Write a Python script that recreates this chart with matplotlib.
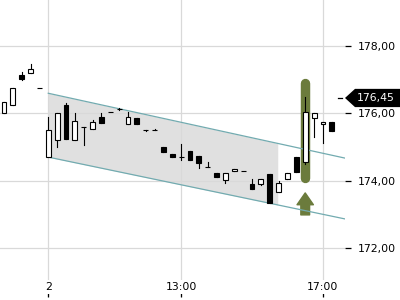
import numpy as np
import matplotlib
matplotlib.use("Agg")
import matplotlib.pyplot as plt
from matplotlib.patches import Polygon

# 15-minute candles (index 0..37)
opens  = [176.00, 176.24, 177.13, 177.19, 176.74, 174.70, 175.20, 176.24, 175.20, 175.59,
          175.53, 175.88, 176.03, 176.12, 175.68, 175.85, 175.50, 175.50, 175.00, 174.79,
          174.71, 174.88, 174.73, 174.41, 174.23, 174.02, 174.29, 174.29, 173.90, 173.90,
          174.20, 173.67, 174.05, 174.70, 174.55, 175.85, 175.68, 175.74]
highs  = [176.33, 176.74, 177.22, 177.45, 176.74, 175.88, 176.00, 176.30, 176.00, 175.59,
          175.80, 176.00, 176.03, 176.15, 176.03, 175.85, 175.50, 175.53, 175.00, 174.79,
          175.09, 174.88, 174.73, 174.55, 174.23, 174.23, 174.35, 174.29, 174.05, 174.05,
          174.20, 173.99, 174.23, 174.70, 176.48, 176.00, 175.74, 175.74]
lows   = [176.00, 176.24, 176.98, 177.19, 176.74, 174.70, 175.00, 175.23, 175.20, 175.06,
          175.53, 175.71, 176.03, 176.10, 175.68, 175.68, 175.47, 175.50, 174.85, 174.70,
          174.61, 174.61, 174.38, 174.41, 174.11, 173.93, 174.29, 174.29, 173.75, 173.87,
          173.34, 173.67, 174.05, 174.26, 174.49, 175.29, 175.12, 175.47]
closes = [176.33, 176.74, 177.01, 177.30, 176.74, 175.50, 176.00, 175.23, 175.77, 175.59,
          175.74, 175.71, 176.03, 176.12, 175.88, 175.68, 175.50, 175.50, 174.85, 174.70,
          174.70, 174.61, 174.52, 174.41, 174.11, 174.23, 174.35, 174.29, 173.75, 174.05,
          173.34, 173.93, 174.23, 174.26, 176.03, 176.00, 175.74, 175.47]

# trend channel: x range and (start, end) prices of both lines
channel_x = [5, 38.5]
channel_upper = [176.59, 174.67]
channel_lower = [174.70, 172.87]
channel_fill_end = 30.9

signal_idx = 34
last_price = 176.45

x_tick_pos = [5, 20, 36]
x_tick_labels = ["2", "13:00", "17:00"]
y_ticks = [172, 174, 176, 178]

olive = "#6b7b3c"
teal = "#72abb0"
grid_col = "#d9d9d9"

plt.rcParams["font.family"] = "DejaVu Sans"
fig = plt.figure(figsize=(4, 3), dpi=100)
ax = fig.add_axes([0, 0.01, 345 / 400, 0.99])

# channel
xs = np.linspace(channel_x[0], channel_fill_end, 50)
up = np.interp(xs, channel_x, channel_upper)
lo = np.interp(xs, channel_x, channel_lower)
ax.fill_between(xs, lo, up, color="#e0e0e0", lw=0, zorder=1)
ax.plot(channel_x, channel_upper, color=teal, lw=0.9, zorder=2.5)
ax.plot(channel_x, channel_lower, color=teal, lw=0.9, zorder=2.5)

# signal highlight and arrow
ax.plot([signal_idx, signal_idx], [176.88, 174.09], color=olive, lw=6.8,
        solid_capstyle="round", zorder=2)
ax.annotate("", xy=(signal_idx, 173.64), xytext=(signal_idx, 172.99),
            arrowprops=dict(width=6.3, headwidth=11.8, headlength=8.5, color=olive,
                            shrink=0), zorder=2)

# candles
idx = np.arange(len(opens))
for i in idx:
    o, h, l, c = opens[i], highs[i], lows[i], closes[i]
    ax.plot([i, i], [l, h], color="black", lw=0.8, zorder=3)
    bottom = min(o, c)
    height = max(abs(c - o), 0.001)
    face = "white" if c > o else "black"
    ax.bar(i, height, bottom=bottom, width=0.55, color=face, edgecolor="black",
           linewidth=0.8, zorder=4)

# last price marker
ytr = ax.get_yaxis_transform()
ax.plot([0.98, 0.992], [last_price, last_price], color="black", lw=0.9,
        transform=ytr, clip_on=False)
tag = Polygon([(1.0, last_price), (1.029, last_price + 0.27), (1.16, last_price + 0.27),
               (1.16, last_price - 0.27), (1.029, last_price - 0.27)],
              closed=True, fc="black", ec="none", transform=ytr, clip_on=False, zorder=6)
ax.add_patch(tag)
ax.text(1.035, last_price, f"{last_price:.2f}".replace(".", ","), color="white",
        fontsize=7.8, va="center", ha="left", transform=ytr, zorder=7)

ax.set_xlim(-0.45, 38.49)
ax.set_ylim(170.56, 179.35)

ax.set_yticks(y_ticks)
ax.set_yticklabels([f"{v:.2f}".replace(".", ",") for v in y_ticks])
ax.yaxis.tick_right()
ax.tick_params(axis="y", direction="out", length=4, width=0.9, pad=5, labelsize=7.8)

ax.set_xticks(x_tick_pos)
ax.set_xticklabels(x_tick_labels)
ax.tick_params(axis="x", direction="in", length=4, width=0.9, pad=-11, labelsize=7.8)
for lab in ax.get_xticklabels():
    lab.set_bbox(dict(fc="white", ec="none", pad=1.5))

ax.grid(True, color=grid_col, lw=0.9)
for s in ax.spines.values():
    s.set_visible(False)

fig.savefig("out.png", dpi=100)
